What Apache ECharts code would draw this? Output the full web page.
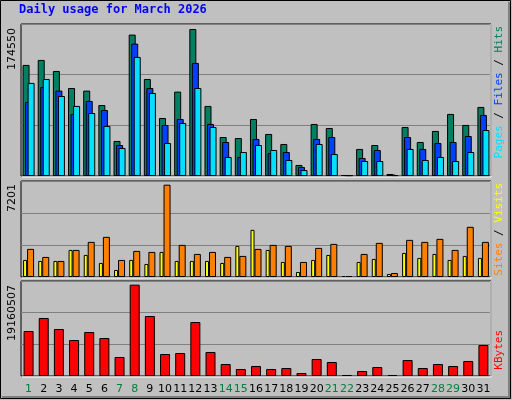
<!DOCTYPE html>
<html><head><meta charset="utf-8">
<script src="https://cdn.jsdelivr.net/npm/echarts@6/dist/echarts.min.js"></script>
<style>html,body{margin:0;padding:0;background:#c0c0c0}#c{width:512px;height:400px}</style>
</head><body><div id="c"></div>
<script>
const days = ['1','2','3','4','5','6','7','8','9','10','11','12','13','14','15','16','17','18','19','20','21','22','23','24','25','26','27','28','29','30','31'];
const weekend = ['1','7','8','14','15','21','22','28','29'];
const hits = [131900,137800,124700,104500,101400,84300,41600,167900,115200,68900,100200,174550,83200,46300,45100,67700,49900,38000,13100,61800,57000,1200,32100,36800,2400,58200,40400,53500,73700,60600,82000];
const files = [87900,105700,101400,73700,89100,78400,36800,157200,104500,60600,67700,134200,61800,40400,22600,44000,27300,28500,10700,44000,46300,800,21400,30900,1600,46300,32100,39200,40400,47500,72500];
const pages = [110500,115200,95000,83200,74800,59400,33300,141400,98600,39200,63000,104500,58200,22600,28500,36800,30900,19000,7100,38000,26100,400,17800,17800,800,32100,19000,22600,17800,28500,54600];
const visits = [2192,1565,1252,2113,2739,3131,1331,2035,1957,7201,2505,1800,1957,1565,1644,2192,2505,2426,1174,2270,2583,78,1800,2661,313,2896,2739,2974,2113,3914,2739];
const sites = [1331,1252,1252,2113,1722,1096,548,1331,1017,1957,1252,1252,1252,1096,2426,3679,2113,1174,391,1331,1722,78,1174,1409,235,1878,1487,1800,1331,1644,1487];
const kbytes = [9440000,12168000,9860000,7552000,9231000,7972000,3986000,19160507,12587000,4615000,4825000,11328000,5035000,2517000,1469000,2098000,1469000,1678000,629000,3566000,2937000,210000,1049000,1888000,210000,3357000,1678000,2517000,2098000,3147000,6503000];
const maxLabels = ['174550','7201','19160507'];

const c = echarts.init(document.getElementById('c'));
const tops=[24,181,281], hs=[152,96,95];
const maxes=[174550*152/147, 7201*287/276, 19160507*285/274];
const grids = tops.map((t,i)=>({left:21,right:21,top:t,height:hs[i],show:true,backgroundColor:'#c0c0c0',borderColor:'#000',borderWidth:1}));
const xAxes = tops.map((t,i)=>({type:'category',gridIndex:i,data:days,axisTick:{show:false},axisLine:{show:false},
  axisLabel:{show:i===2,margin:8,fontFamily:'DejaVu Sans',fontSize:11,interval:0,
    color:(v)=>weekend.includes(v)?'#008040':'#000'}}));
const yAxes = maxes.map((m,i)=>({type:'value',gridIndex:i,min:0,max:m,interval:m/3,axisLabel:{show:false},axisLine:{show:false},axisTick:{show:false},
  splitLine:{lineStyle:{color:'#808080',width:1}}}));
const bs = {borderColor:'#000',borderWidth:1};
const mono='DejaVu Sans Mono';
const graphics = [
  {type:'rect',shape:{x:0.5,y:0.5,width:510,height:398},style:{fill:'none',stroke:'#000',lineWidth:1},z:-1},
  {type:'polyline',shape:{points:[[509,2],[509,397],[2,397]]},style:{fill:'none',stroke:'#808080',lineWidth:2}},
  {type:'text',left:19,top:4,style:{text:'Daily usage for March 2026',fill:'#0000ff',font:'bold 12px '+mono}},
];
tops.forEach((t,i)=>graphics.push({type:'polyline',z:10,shape:{points:[[22,t+hs[i]+1],[491,t+hs[i]+1],[491,t]]},style:{fill:'none',stroke:'#fff',lineWidth:1}}));
const ly=[28,184,285];
maxLabels.forEach((t,i)=>graphics.push({type:'text',x:7,y:ly[i],rotation:Math.PI/2,style:{text:t,fill:'#000',font:'11px DejaVu Sans',align:'right',verticalAlign:'top'}}));
graphics.push({type:'text',x:494,y:26,rotation:Math.PI/2,style:{align:'right',verticalAlign:'top',font:'11px '+mono,
  rich:{p:{fill:'#00e0ff',font:'11px '+mono},f:{fill:'#0040ff',font:'11px '+mono},h:{fill:'#008060',font:'11px '+mono},s:{fill:'#000',font:'11px '+mono}},
  text:'{p|Pages}{s| / }{f|Files}{s| / }{h|Hits}'}});
graphics.push({type:'text',x:494,y:183,rotation:Math.PI/2,style:{align:'right',verticalAlign:'top',
  rich:{a:{fill:'#ff8000',font:'11px '+mono},b:{fill:'#ffff00',font:'11px '+mono},s:{fill:'#000',font:'11px '+mono}},
  text:'{a|Sites}{s| / }{b|Visits}'}});
graphics.push({type:'text',x:494,y:330,rotation:Math.PI/2,style:{align:'right',verticalAlign:'top',fill:'#ff0000',font:'11px '+mono,text:'KBytes'}});
c.setOption({
  backgroundColor:'#c0c0c0',animation:false,
  grid:grids,xAxis:xAxes,yAxis:yAxes,graphic:graphics,
  series:[
    {type:'bar',name:'Hits',data:hits,xAxisIndex:0,yAxisIndex:0,barWidth:7,barGap:'-64%',itemStyle:Object.assign({color:'#008060'},bs)},
    {type:'bar',name:'Files',data:files,xAxisIndex:0,yAxisIndex:0,barWidth:7,barGap:'-64%',itemStyle:Object.assign({color:'#0040ff'},bs)},
    {type:'bar',name:'Pages',data:pages,xAxisIndex:0,yAxisIndex:0,barWidth:7,barGap:'-64%',itemStyle:Object.assign({color:'#00e0ff'},bs)},
    {type:'bar',name:'Visits',data:sites,xAxisIndex:1,yAxisIndex:1,barWidth:4,barGap:'0%',itemStyle:Object.assign({color:'#ffff00'},bs)},
    {type:'bar',name:'Sites',data:visits,xAxisIndex:1,yAxisIndex:1,barWidth:7,barGap:'0%',itemStyle:Object.assign({color:'#ff8000'},bs)},
    {type:'bar',name:'KBytes',data:kbytes,xAxisIndex:2,yAxisIndex:2,barWidth:10,itemStyle:Object.assign({color:'#ff0000'},bs)}
  ]
});
</script></body></html>
